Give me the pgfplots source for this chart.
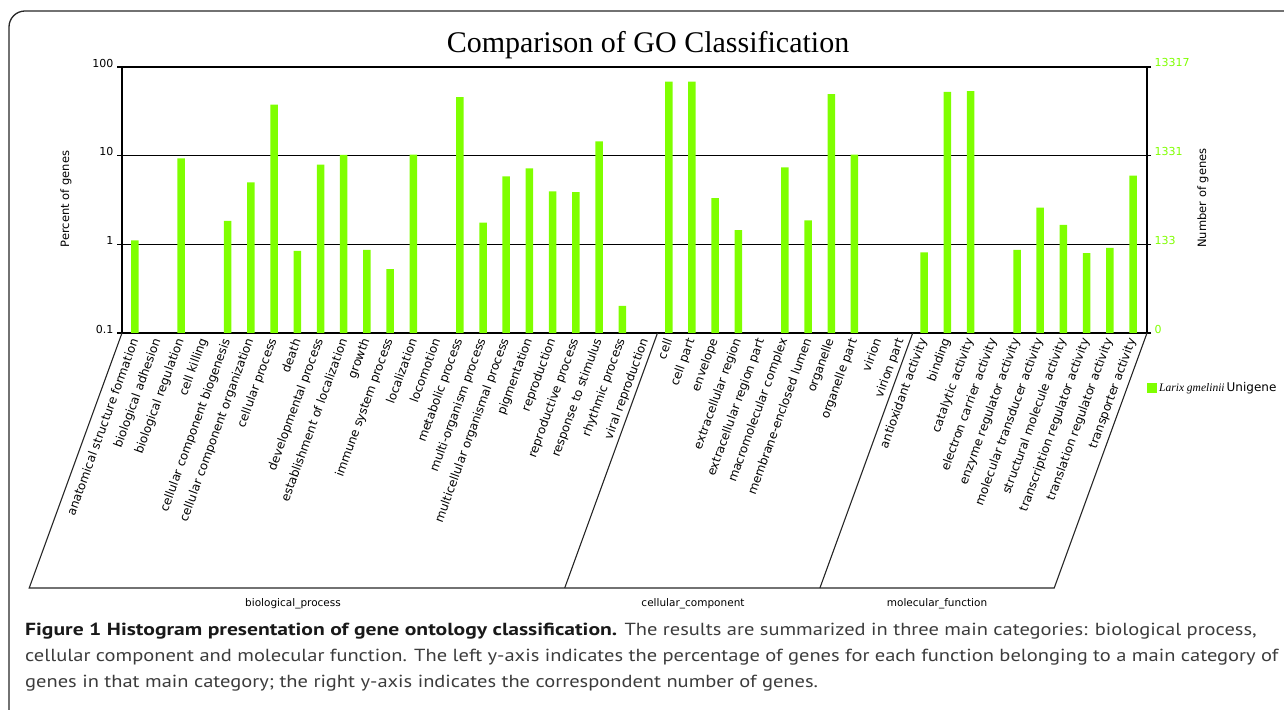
\documentclass[border=0pt]{standalone}
\usepackage{pgfplots}
\pgfplotsset{compat=1.18}
\usepackage{fontspec}
\setmainfont{DejaVu Sans}
\newfontfamily\tms{Liberation Serif}
\newfontfamily\capfont[FakeStretch=1.17]{PT Sans}
\newfontfamily\capbold[FakeStretch=1.235]{PT Sans}
\definecolor{barg}{RGB}{127,255,0}
\definecolor{capgray}{RGB}{60,60,60}

\pgfplotstableread{
idx val
0 1.11
2 9.3
4 1.84
5 4.99
6 37.7
7 0.845
8 7.9
9 10.2
10 0.867
11 0.525
12 10.3
14 45.6
15 1.76
16 5.83
17 7.19
18 3.95
19 3.89
20 14.5
21 0.202
23 68.6
24 68.6
25 3.33
26 1.45
28 7.38
29 1.86
30 49.3
31 10.3
34 0.81
35 52.5
36 53.3
38 0.867
39 2.6
40 1.66
41 0.795
42 0.912
43 5.94
}\godata

\begin{document}
\begin{tikzpicture}[x=1pt,y=1pt]
\path[use as bounding box] (0,0) rectangle (1284,709);
\draw[line width=1.3pt, rounded corners=16pt, black!85] (9,698) rectangle (1330,-40);
\node[font=\tms\fontsize{30}{30}\selectfont, anchor=base] at (648,656) {Comparison of GO Classification};

\begin{axis}[
  at={(122pt,376pt)}, anchor=south west,
  scale only axis, width=1025pt, height=266pt,
  ymode=log, ymin=0.1, ymax=100, log origin=infty,
  xmin=-0.55, xmax=43.6, enlargelimits=false,
  ybar, bar width=7.5pt,
  axis line style={black, line width=1.7pt},
  ymajorgrids, grid style={black, line width=1.6pt},
  yminorticks=false,
  ytick={0.1,1,10,100}, yticklabels={0.1,1,10,100},
  ytick pos=left, tick align=outside, major tick length=5pt,
  ytick style={black, line width=1.2pt},
  yticklabel style={font=\fontsize{11}{11}\selectfont, yshift=4pt},
  xtick={0,...,43}, xtick style={draw=none},
  xticklabels={anatomical structure formation, biological adhesion, biological regulation, cell killing, cellular component biogenesis, cellular component organization, cellular process, death, developmental process, establishment of localization, growth, immune system process, localization, locomotion, metabolic process, multi-organism process, multicellular organismal process, pigmentation, reproduction, reproductive process, response to stimulus, rhythmic process, viral reproduction, cell, cell part, envelope, extracellular region, extracellular region part, macromolecular complex, membrane-enclosed lumen, organelle, organelle part, virion, virion part, antioxidant activity, binding, catalytic activity, electron carrier activity, enzyme regulator activity, molecular transducer activity, structural molecule activity, transcription regulator activity, translation regulator activity, transporter activity},
  xticklabel style={rotate=70, anchor=east, font=\fontsize{12}{12}\selectfont, inner sep=1pt},
  legend style={draw=none, fill=none, at={(1.0,-0.207)}, anchor=west, inner sep=0pt, font=\fontsize{12}{12}\selectfont},
  legend cell align=left,
]
\addplot[fill=barg, draw=none, legend image code/.code={\fill[barg] (0pt,-5pt) rectangle (10pt,5pt);}] table[x=idx, y=val] {\godata};
\addlegendentry{{\tms\itshape\fontsize{11.5}{12}\selectfont Larix gmelinii}\,Unigene}
\end{axis}

\begin{axis}[
  at={(122pt,376pt)}, anchor=south west,
  scale only axis, width=1025pt, height=266pt,
  ymode=log, ymin=0.1, ymax=100,
  xmin=-0.55, xmax=43.6,
  axis x line=none, axis y line*=right,
  axis line style={black, line width=1.7pt},
  yminorticks=false,
  ytick={0.1,1,10,100}, yticklabels={0,133,1331,13317},
  tick align=outside, major tick length=4pt,
  ytick style={black, line width=1.2pt},
  yticklabel style={font=\fontsize{11}{11}\selectfont, text=barg, yshift=4pt},
]
\addplot[draw=none] coordinates {(0,1)};
\end{axis}

\node[rotate=90, font=\fontsize{11.5}{12}\selectfont] at (66,510) {Percent of genes};
\node[rotate=90, font=\fontsize{11.5}{12}\selectfont] at (1203,511) {Number of genes};

\draw[line width=1.1pt, black!85] (122,376) -- (29.2,121) -- (1054.2,121) -- (1147,376);
\draw[line width=1.1pt, black!85] (657.5,376) -- (564.7,121);
\draw[line width=1.1pt, black!85] (912.7,376) -- (819.9,121);

\node[font=\fontsize{10.5}{11}\selectfont] at (293,105) {biological\_process};
\node[font=\fontsize{10.5}{11}\selectfont] at (693,105) {cellular\_component};
\node[font=\fontsize{10.5}{11}\selectfont] at (937,105) {molecular\_function};

\node[anchor=base west, inner sep=0pt, font=\capfont\fontsize{17.5}{18}\selectfont, text=capgray] at (25,73) {{\capbold\bfseries\color{black!90}Figure 1 Histogram presentation of gene ontology classification.} The results are summarized in three main categories: biological process,};
\node[anchor=base west, inner sep=0pt, font=\capfont\fontsize{17.5}{18}\selectfont, text=capgray] at (25,47) {cellular component and molecular function. The left y-axis indicates the percentage of genes for each function belonging to a main category of};
\node[anchor=base west, inner sep=0pt, font=\capfont\fontsize{17.5}{18}\selectfont, text=capgray] at (25,21) {genes in that main category; the right y-axis indicates the correspondent number of genes.};
\end{tikzpicture}
\end{document}
